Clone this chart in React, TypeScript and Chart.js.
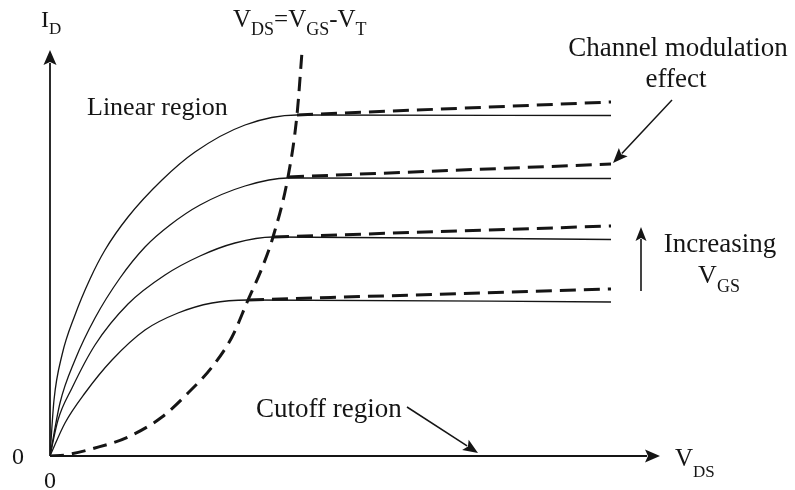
import { useEffect, useRef } from "react";
import { Chart, registerables } from "chart.js";

Chart.register(...registerables);

const W = 795;
const H = 490;

// Output characteristics, lowest V_GS first (V_DS in V, I_D in mA)
const vgs1Vds = [0, 0.3, 0.7, 1.24, 1.9, 2.56, 3.24, 3.96, 11.22];
const vgs1Id = [0, 0.66, 1.26, 1.92, 2.52, 2.86, 3.06, 3.12, 3.08];

const vgs2Vds = [0, 0.16, 0.44, 0.9, 1.56, 2.3, 3.0, 3.7, 4.46, 11.22];
const vgs2Id = [0, 0.72, 1.36, 2.22, 3.04, 3.62, 4.0, 4.26, 4.38, 4.33];

const vgs3Vds = [0, 0.2, 0.5, 0.9, 1.4, 1.9, 2.4, 3.0, 3.9, 4.76, 11.22];
const vgs3Id = [0, 1.06, 1.92, 2.76, 3.56, 4.18, 4.62, 5.02, 5.4, 5.56, 5.55];

const vgs4Vds = [0, 0.08, 0.24, 0.5, 0.8, 1.1, 1.56, 2.24, 2.9, 3.9, 4.94, 11.22];
const vgs4Id = [0, 1.12, 2.02, 2.82, 3.54, 4.12, 4.78, 5.52, 6.08, 6.62, 6.82, 6.81];

// Saturation with channel-length modulation: start at V_DS(sat), end at the right edge
const clmStartVds = [3.96, 4.46, 4.76, 4.94];
const clmStartId = [3.12, 4.38, 5.58, 6.82];
const clmEndVds = [11.22, 11.22, 11.22, 11.22];
const clmEndId = [3.34, 4.6, 5.84, 7.08];

// Boundary V_DS = V_GS - V_T
const boundaryVds = [0, 0.3, 0.9, 1.56, 2.24, 2.76, 3.24, 3.64, 3.96, 4.24, 4.46, 4.76, 4.94, 5.04];
const boundaryId = [0, 0.02, 0.16, 0.38, 0.78, 1.26, 1.78, 2.38, 3.12, 3.76, 4.38, 5.58, 6.82, 8.08];

// Axis extents (V_DS, I_D)
const X_MAX = 12.4;
const Y_MAX = 8.4;
// V_DS where the cutoff-region pointer lands on the axis
const cutoffPointVds = 8.56;

const INK = "#151515";
const SERIF = "'Liberation Serif', 'Times New Roman', serif";

const pts = (xs: number[], ys: number[]) => xs.map((x, i) => ({ x, y: ys[i] }));

function arrow(
  ctx: CanvasRenderingContext2D,
  x1: number,
  y1: number,
  x2: number,
  y2: number,
  head = 14,
  halfW = 6,
  lw = 1.5
) {
  const a = Math.atan2(y2 - y1, x2 - x1);
  const bx = x2 - head * Math.cos(a);
  const by = y2 - head * Math.sin(a);
  ctx.save();
  ctx.strokeStyle = INK;
  ctx.fillStyle = INK;
  ctx.lineWidth = lw;
  ctx.setLineDash([]);
  ctx.beginPath();
  ctx.moveTo(x1, y1);
  ctx.lineTo(bx + 2 * Math.cos(a), by + 2 * Math.sin(a));
  ctx.stroke();
  ctx.beginPath();
  ctx.moveTo(x2, y2);
  ctx.lineTo(bx - halfW * Math.sin(a), by + halfW * Math.cos(a));
  ctx.lineTo(bx + 3 * Math.cos(a), by + 3 * Math.sin(a));
  ctx.lineTo(bx + halfW * Math.sin(a), by - halfW * Math.cos(a));
  ctx.closePath();
  ctx.fill();
  ctx.restore();
}

// Draws runs of text; each part is [text, font size, baseline shift]
function richText(
  ctx: CanvasRenderingContext2D,
  parts: [string, number, number][],
  x: number,
  y: number,
  align: "left" | "center" = "left"
) {
  ctx.save();
  ctx.fillStyle = INK;
  ctx.textBaseline = "alphabetic";
  ctx.textAlign = "left";
  let total = 0;
  for (const [t, s] of parts) {
    ctx.font = `${s}px ${SERIF}`;
    total += ctx.measureText(t).width;
  }
  let cx = align === "center" ? x - total / 2 : x;
  for (const [t, s, dy] of parts) {
    ctx.font = `${s}px ${SERIF}`;
    ctx.fillText(t, cx, y + dy);
    cx += ctx.measureText(t).width;
  }
  ctx.restore();
}

const annotations = {
  id: "mosfetAnnotations",
  afterDraw(chart: Chart) {
    const ctx = chart.ctx;
    const xs = chart.scales.x;
    const ys = chart.scales.y;
    const ox = xs.getPixelForValue(0);
    const oy = ys.getPixelForValue(0);

    // axes
    arrow(ctx, ox, oy, xs.getPixelForValue(12.2), oy, 15, 6.5, 1.8);
    arrow(ctx, ox, oy, ox, ys.getPixelForValue(8.12), 15, 6.5, 1.8);

    // axis labels
    richText(ctx, [["I", 24, 0], ["D", 17, 7]], 41, 27);
    richText(ctx, [["V", 25, 0], ["DS", 17, 11]], 675, 466);
    richText(ctx, [["0", 24, 0]], 12, 464);
    richText(ctx, [["0", 24, 0]], 44, 488);

    // boundary label
    richText(
      ctx,
      [
        ["V", 25, 0],
        ["DS", 18, 8],
        ["=", 25, 0],
        ["V", 25, 0],
        ["GS", 18, 8],
        ["-", 25, 0],
        ["V", 25, 0],
        ["T", 18, 8],
      ],
      233,
      27
    );

    richText(ctx, [["Linear region", 26, 0]], 87, 115);

    // channel-length modulation callout
    richText(ctx, [["Channel modulation", 27, 0]], 678, 56, "center");
    richText(ctx, [["effect", 27, 0]], 676, 87, "center");
    arrow(
      ctx,
      672,
      100,
      xs.getPixelForValue(clmEndVds[2]) + 2,
      ys.getPixelForValue(clmEndId[2]) - 1,
      15,
      6,
      1.5
    );

    // increasing V_GS
    arrow(ctx, 641, 291, 641, 227, 14, 5.5, 1.6);
    richText(ctx, [["Increasing", 27, 0]], 720, 252, "center");
    richText(ctx, [["V", 26, 0], ["GS", 18, 9]], 719, 283, "center");

    // cutoff region
    richText(ctx, [["Cutoff region", 27, 0]], 256, 417);
    arrow(ctx, 407, 407, xs.getPixelForValue(cutoffPointVds), oy - 3, 15, 6, 1.5);
  },
};

export default function App() {
  const ref = useRef<HTMLCanvasElement | null>(null);

  useEffect(() => {
    if (!ref.current) return;
    const solid = (data: { x: number; y: number }[]) => ({
      data,
      showLine: true,
      borderColor: INK,
      borderWidth: 1.3,
      pointRadius: 0,
      fill: false,
      cubicInterpolationMode: "monotone" as const,
    });
    const dashed = (data: { x: number; y: number }[], dash: number[]) => ({
      data,
      showLine: true,
      borderColor: INK,
      borderWidth: 3,
      borderDash: dash,
      pointRadius: 0,
      fill: false,
      cubicInterpolationMode: "monotone" as const,
    });

    const clmLines = clmStartVds.map((x0, i) =>
      dashed(
        [
          { x: x0, y: clmStartId[i] },
          { x: clmEndVds[i], y: clmEndId[i] },
        ],
        [16, 8]
      )
    );

    const chart = new Chart(ref.current, {
      type: "scatter",
      data: {
        datasets: [
          solid(pts(vgs1Vds, vgs1Id)),
          solid(pts(vgs2Vds, vgs2Id)),
          solid(pts(vgs3Vds, vgs3Id)),
          solid(pts(vgs4Vds, vgs4Id)),
          ...clmLines,
          dashed(pts(boundaryVds, boundaryId), [14, 8]),
        ],
      },
      options: {
        animation: false,
        responsive: false,
        devicePixelRatio: 1,
        layout: {
          padding: { left: 50, right: W - 50 - X_MAX * 50, top: H - 34 - Y_MAX * 50, bottom: 34 },
        },
        plugins: {
          legend: { display: false },
          tooltip: { enabled: false },
          title: { display: false },
        },
        scales: {
          x: { type: "linear", min: 0, max: X_MAX, display: false },
          y: { type: "linear", min: 0, max: Y_MAX, display: false },
        },
        events: [],
      },
      plugins: [annotations],
    });
    return () => chart.destroy();
  }, []);

  return (
    <div
      style={{
        position: "fixed",
        left: 0,
        top: 0,
        width: W,
        height: H,
        background: "#ffffff",
      }}
    >
      <canvas ref={ref} width={W} height={H} style={{ width: W, height: H, display: "block" }} />
    </div>
  );
}
